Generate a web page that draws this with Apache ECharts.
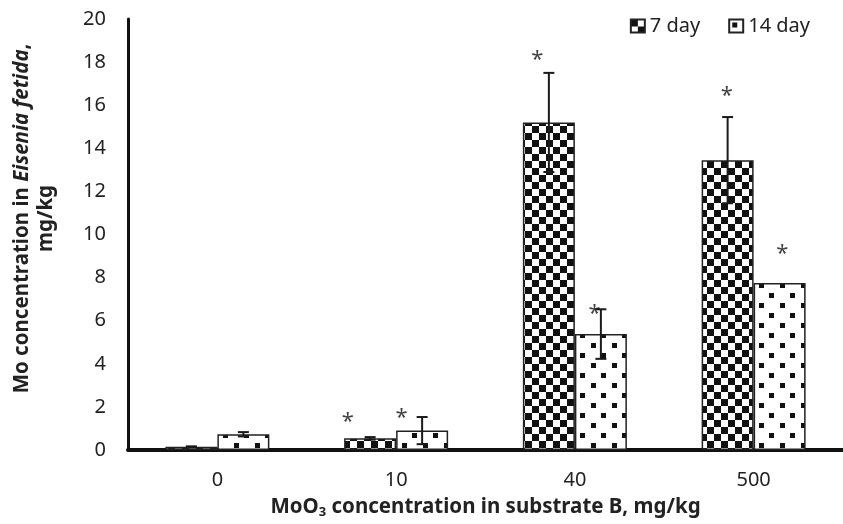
<!DOCTYPE html>
<html>
<head>
<meta charset="utf-8">
<script src="https://cdn.jsdelivr.net/npm/echarts@6/dist/echarts.min.js"></script>
<style>
  html, body { margin: 0; padding: 0; background: #fff; }
  #chart { width: 843px; height: 524px; }
</style>
</head>
<body>
<div id="chart"></div>
<script>
// data
var categories = ['0', '10', '40', '500'];
var day7 = [0.15, 0.54, 15.2, 13.45];
var day7Err = [0.02, 0.06, 2.3, 2.0];
var day14 = [0.73, 0.9, 5.38, 7.75];
var day14Err = [0.1, 0.63, 1.15, 0];
// asterisks: [x in category units, y value]
var stars = [[0.73, 1.53], [1.03, 1.72], [1.79, 18.33], [2.11, 6.54], [2.85, 16.66], [3.16, 9.33]];

var FONT = 'Noto Sans';
var INK = '#1a1a1a';

function checker() {
  var c = document.createElement('canvas');
  c.width = 14; c.height = 14;
  var g = c.getContext('2d');
  g.fillStyle = '#fff'; g.fillRect(0, 0, 14, 14);
  g.fillStyle = '#111';
  g.fillRect(0, 0, 7, 7);
  g.fillRect(7, 7, 7, 7);
  return c;
}
function dots() {
  var c = document.createElement('canvas');
  c.width = 21; c.height = 20;
  var g = c.getContext('2d');
  g.fillStyle = '#fff'; g.fillRect(0, 0, 21, 20);
  g.fillStyle = '#111';
  g.fillRect(3, 3, 5, 5);
  g.fillRect(13, 13, 5, 5);
  return c;
}

var checkFill = { image: checker(), repeat: 'repeat' };
var dotFill = { image: dots(), repeat: 'repeat' };

function errSeries(vals, errs, shift) {
  return {
    type: 'custom',
    z: 5,
    silent: true,
    data: vals.map(function (v, i) { return [i, v, errs[i]]; }),
    renderItem: function (params, api) {
      var e = api.value(2);
      if (!e) return null;
      var i = api.value(0), v = api.value(1);
      var hi = api.coord([i, v + e]);
      var lo = api.coord([i, v - e]);
      var x = hi[0] + shift;
      var st = { stroke: INK, lineWidth: 2 };
      return {
        type: 'group',
        children: [
          { type: 'line', shape: { x1: x, y1: hi[1], x2: x, y2: lo[1] }, style: st },
          { type: 'line', shape: { x1: x - 5.5, y1: hi[1], x2: x + 5.5, y2: hi[1] }, style: st },
          { type: 'line', shape: { x1: x - 5.5, y1: lo[1], x2: x + 5.5, y2: lo[1] }, style: st }
        ]
      };
    }
  };
}

var chart = echarts.init(document.getElementById('chart'), null, { renderer: 'canvas' });

chart.setOption({
  backgroundColor: '#fff',
  animation: false,
  textStyle: { fontFamily: FONT },
  grid: { left: 128, right: 0, top: 19, bottom: 74 },
  legend: {
    top: 11,
    right: 28,
    itemWidth: 14,
    itemHeight: 13,
    itemGap: 28,
    icon: 'rect',
    textStyle: { fontFamily: FONT, fontSize: 20, color: '#222' },
    data: ['7 day', '14 day']
  },
  xAxis: [{
    type: 'category',
    data: categories,
    axisLine: { lineStyle: { color: '#111', width: 4 } },
    axisTick: { show: false },
    axisLabel: { fontSize: 20, color: '#222', margin: 20 },
    name: '{b|MoO}{s|3}{b| concentration in substrate B, mg/kg}',
    nameLocation: 'middle',
    nameGap: 46,
    nameTextStyle: {
      rich: {
        b: { fontFamily: FONT, fontSize: 20.5, fontWeight: 'bold', color: '#222' },
        s: { fontFamily: FONT, fontSize: 13, fontWeight: 'bold', color: '#222', padding: [10, 0, 0, 0] }
      }
    }
  }, {
    type: 'value',
    min: -0.5,
    max: 3.5,
    show: false
  }],
  yAxis: {
    type: 'value',
    min: 0,
    max: 20,
    interval: 2,
    axisLine: { show: true, onZero: false, lineStyle: { color: '#111', width: 3 } },
    axisTick: { show: false },
    splitLine: { show: false },
    axisLabel: { fontSize: 20, color: '#222', margin: 22 },
    name: '{b|Mo concentration in }{i|Eisenia fetida}{b|,}\n{b|mg/kg}',
    nameLocation: 'middle',
    nameGap: 70,
    nameTextStyle: {
      padding: [0, 0, 0, 32],
      rich: {
        b: { fontFamily: FONT, fontSize: 20.5, fontWeight: 'bold', color: '#222', lineHeight: 24 },
        i: { fontFamily: FONT, fontSize: 20.5, fontWeight: 'bold', fontStyle: 'italic', color: '#222', lineHeight: 24 }
      }
    }
  },
  series: [
    {
      name: '7 day',
      type: 'bar',
      data: day7,
      barWidth: 52,
      barGap: '0%',
      itemStyle: { color: checkFill, borderColor: '#222', borderWidth: 1.5 }
    },
    {
      name: '14 day',
      type: 'bar',
      data: day14,
      barWidth: 52,
      barGap: '0%',
      itemStyle: { color: dotFill, borderColor: '#222', borderWidth: 1.5 }
    },
    errSeries(day7, day7Err, -26),
    errSeries(day14, day14Err, 26),
    {
      type: 'scatter',
      xAxisIndex: 1,
      data: stars,
      symbolSize: 0,
      silent: true,
      z: 6,
      label: {
        show: true,
        position: 'inside',
        formatter: '*',
        fontFamily: FONT,
        fontSize: 22,
        color: '#111',
        offset: [0, 5]
      }
    }
  ]
});
</script>
</body>
</html>
